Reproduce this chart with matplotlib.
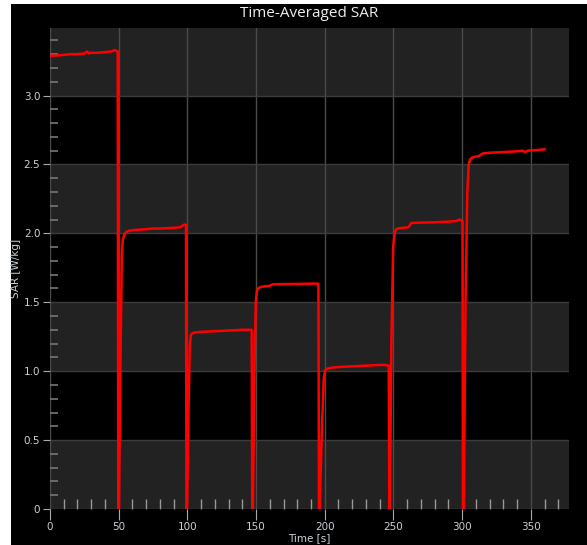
import numpy as np
import matplotlib.pyplot as plt
from matplotlib.patches import Rectangle
from matplotlib.ticker import MultipleLocator, FuncFormatter

# SAR trace per exposure step: time [s] and time-averaged SAR [W/kg]
t1 = [0, 5, 10, 15, 20, 25, 27, 28, 29, 32, 35, 40, 45, 47, 48, 49.3]
s1 = [3.29, 3.29, 3.295, 3.30, 3.30, 3.305, 3.32, 3.305, 3.31, 3.31, 3.31, 3.315, 3.32, 3.33, 3.325, 3.32]
t2 = [49.7, 50.2, 51.2, 52.3, 53.0, 54.0, 55.5, 58, 62, 70, 75, 80, 90, 95, 97, 98, 99.0]
s2 = [0.0, 0.0, 1.0, 1.85, 1.95, 1.99, 2.01, 2.02, 2.025, 2.03, 2.035, 2.035, 2.04, 2.045, 2.06, 2.065, 2.06]
t3 = [99.3, 99.8, 100.8, 101.8, 102.5, 103.5, 105, 110, 120, 130, 140, 145, 146.8]
s3 = [0.0, 0.0, 0.7, 1.2, 1.26, 1.275, 1.28, 1.285, 1.29, 1.295, 1.30, 1.30, 1.30]
t4 = [147.2, 147.7, 148.8, 149.8, 150.6, 151.5, 153, 156, 160, 162, 170, 180, 190, 195.4]
s4 = [0.0, 0.0, 1.0, 1.5, 1.58, 1.60, 1.61, 1.615, 1.62, 1.63, 1.632, 1.633, 1.635, 1.635]
t5 = [195.8, 196.3, 198.0, 199.3, 200.2, 201, 202.5, 205, 210, 220, 230, 240, 244, 246.6]
s5 = [0.0, 0.0, 0.6, 0.95, 1.0, 1.015, 1.02, 1.025, 1.03, 1.035, 1.04, 1.045, 1.045, 1.04]
t6 = [247.0, 247.4, 248.5, 249.8, 250.8, 252, 254, 258, 261, 263, 270, 280, 290, 296, 298, 300.3]
s6 = [0.0, 0.0, 1.2, 1.9, 2.0, 2.03, 2.037, 2.04, 2.045, 2.075, 2.078, 2.08, 2.085, 2.09, 2.10, 2.09]
t7 = [300.7, 301.2, 302.5, 303.8, 304.8, 306, 307.5, 309, 312, 315, 320, 330, 340, 344, 345.5, 348, 355, 360]
s7 = [0.0, 0.0, 1.5, 2.3, 2.5, 2.54, 2.55, 2.555, 2.56, 2.58, 2.585, 2.59, 2.595, 2.60, 2.59, 2.60, 2.605, 2.61]

time_s = t1 + t2 + t3 + t4 + t5 + t6 + t7
sar = s1 + s2 + s3 + s4 + s5 + s6 + s7

x_max = 377.8
y_max = 3.49
band_color = '#222222'
text_color = '#c8d0d8'

fig = plt.figure(figsize=(5.87, 5.45), dpi=100, facecolor='white')
# dark panel behind the plot
fig.patches.append(Rectangle((11 / 587, 0), 1, 1 - 4 / 545, transform=fig.transFigure,
                             facecolor='black', edgecolor='none', zorder=-10))

ax = fig.add_axes([50 / 587, 36 / 545, 519 / 587, 481 / 545])
ax.set_facecolor('black')
ax.set_xlim(0, x_max)
ax.set_ylim(0, y_max)

# alternating horizontal bands
for lo in np.arange(0, y_max, 1.0):
    ax.axhspan(lo, min(lo + 0.5, y_max), color=band_color, lw=0, zorder=0)

ax.xaxis.set_major_locator(MultipleLocator(50))
ax.xaxis.set_minor_locator(MultipleLocator(10))
ax.yaxis.set_major_locator(MultipleLocator(0.5))
ax.yaxis.set_minor_locator(MultipleLocator(0.1))
ax.yaxis.set_major_formatter(FuncFormatter(lambda v, p: '0' if v == 0 else '%.1f' % v))

ax.grid(True, which='major', axis='x', color='#4a4a4a', lw=1)
ax.grid(True, which='major', axis='y', color='#3c3c3c', lw=1)
ax.set_axisbelow(True)

ax.tick_params(which='major', axis='x', direction='out', length=8, color='#aaaaaa',
               labelcolor=text_color, labelsize=7.5, pad=1)
ax.tick_params(which='major', axis='y', direction='out', length=5, color='#aaaaaa',
               labelcolor=text_color, labelsize=7.5, pad=2)
ax.tick_params(which='minor', axis='x', direction='in', length=7, color='#9a9a9a', width=1)
ax.tick_params(which='minor', axis='y', direction='in', length=6, color='#777777', width=1.2)

for s in ax.spines.values():
    s.set_visible(False)

ax.plot(time_s, sar, color='#ff0000', lw=1.8, zorder=3)

ax.set_title('Time-Averaged SAR', color='#eeeeee', fontsize=11, family='Open Sans', pad=8)
ax.set_xlabel('Time [s]', color=text_color, fontsize=7.5, labelpad=1)
ax.set_ylabel('SAR [W/kg]', color=text_color, fontsize=7.5, labelpad=2)

fig.savefig('out.png', dpi=100, facecolor=fig.get_facecolor())
